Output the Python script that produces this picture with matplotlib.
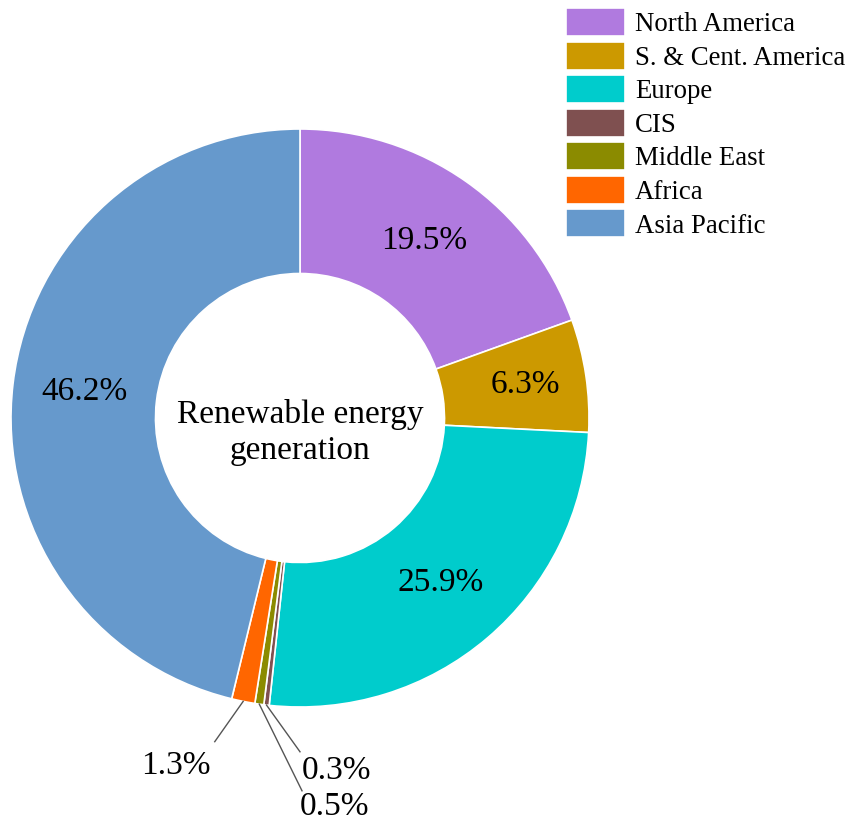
import numpy as np
import matplotlib.pyplot as plt

plt.rcParams['font.family'] = ['Liberation Serif', 'DejaVu Serif']

regions = ['North America', 'S. & Cent. America', 'Europe', 'CIS',
           'Middle East', 'Africa', 'Asia Pacific']
shares = [19.5, 6.3, 25.9, 0.3, 0.5, 1.3, 46.2]
colors = ['#B07ADF', '#CC9900', '#00CCCC', '#7F5050', '#8B8B00', '#FF6600', '#6699CC']

fig = plt.figure(figsize=(8.51, 8.27), dpi=100)
ax = fig.add_axes([11 / 851, 120 / 827, 578 / 851, 578 / 827])

wedges, _ = ax.pie(shares, colors=colors, startangle=90, counterclock=False,
                   radius=1.0, wedgeprops=dict(width=0.5, edgecolor='white', linewidth=1.2))
ax.set_xlim(-1, 1)
ax.set_ylim(-1, 1)
ax.set_aspect('equal')

ax.text(0, -0.05, 'Renewable energy\ngeneration', ha='center', va='center',
        fontsize=24, linespacing=1.25)

# large slices labelled inside the ring, small ones with leader lines
small_pos = {3: (0.125, -1.22), 4: (0.12, -1.345), 5: (-0.43, -1.205)}
line_end = {3: (0.0, -1.155), 4: (0.007, -1.29), 5: (-0.295, -1.12)}
for i, w in enumerate(wedges):
    mid = np.deg2rad((w.theta1 + w.theta2) / 2)
    label = f'{shares[i]:.1f}%'
    if i in small_pos:
        x0, y0 = np.cos(mid), np.sin(mid)
        x1, y1 = line_end[i]
        ax.plot([x0, x1], [y0, y1], color='#555555', lw=1, clip_on=False)
        ax.text(*small_pos[i], label, ha='center', va='center', fontsize=24,
                clip_on=False)
    else:
        r = 0.79 if i == 1 else 0.75
        ax.text(r * np.cos(mid), r * np.sin(mid), label, ha='center', va='center',
                fontsize=24)

fig.legend(wedges, regions, loc='upper left', bbox_to_anchor=(566 / 851, 1 - 8 / 827),
           frameon=False, fontsize=19.3, handlelength=2.2, handleheight=1.23,
           handletextpad=0.37, labelspacing=0.17, borderaxespad=0, borderpad=0)

fig.savefig('out.png', dpi=100)
